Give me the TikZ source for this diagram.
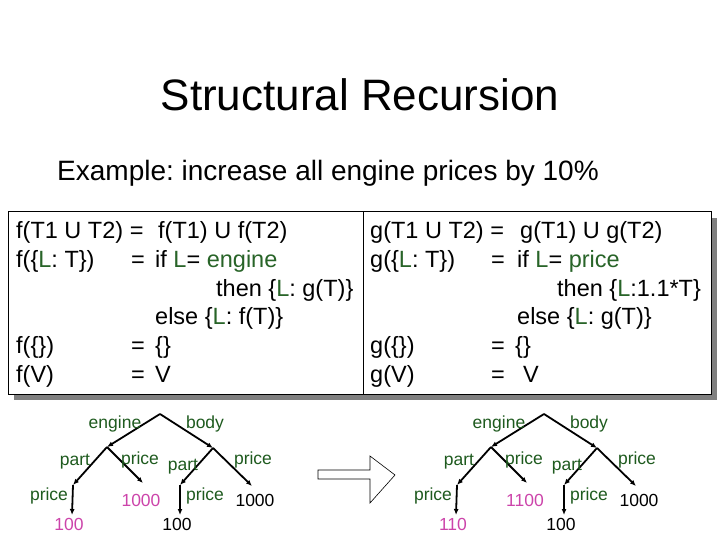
\documentclass[tikz,border=0pt]{standalone}
\usepackage{fontspec}
\setmainfont{Liberation Sans}
\usetikzlibrary{arrows.meta}

\definecolor{codegreen}{RGB}{40,100,40}
\definecolor{treegreen}{RGB}{30,90,30}
\definecolor{valpink}{RGB}{204,68,170}
\newcommand{\gL}{\textcolor{codegreen}{L}}
\frenchspacing

\begin{document}
\begin{tikzpicture}[
  x=1pt, y=-1pt,
  >=Latex,
  code/.style={anchor=base west, inner sep=0pt, font=\fontsize{23.5}{26}\selectfont},
  lbl/.style={anchor=base, inner sep=0pt, text=treegreen, font=\fontsize{17.5}{20}\selectfont},
  val/.style={anchor=base, inner sep=0pt, font=\fontsize{17.5}{20}\selectfont},
  link/.style={-{Latex[length=6pt,width=5pt]}, line width=1.8pt}
]
  \useasboundingbox (0,0) rectangle (720,540);

  % title and subtitle
  \node[anchor=base, inner sep=0pt, font=\fontsize{44}{48}\selectfont] (title) at (360,111) {Structural Recursion};
  \node[anchor=base west, inner sep=0pt, font=\fontsize{28}{32}\selectfont] (sub) at (57,181)
    {Example: increase all engine prices by 10\%};

  % the two definitions, boxed with a shadow
  \fill[black!50] (14,218) rectangle (717,400);
  \draw[fill=white, line width=1pt] (8,212) rectangle (711,394);
  \draw[line width=1pt] (363,212) -- (363,394);

  \node[code] (f1) at (16,238) {f(T1 U T2) =};
  \node[code] (f1r) at (158,238) {f(T1) U f(T2)};
  \node[code] (f2) at (16,267) {f(\{\gL: T\})};
  \node[code] (f2e) at (131,267) {=};
  \node[code] (f2r) at (155,267) {if \gL= \textcolor{codegreen}{engine}};
  \node[code] (f3) at (216,296) {then \{\gL: g(T)\}};
  \node[code] (f4) at (155,324) {else \{\gL: f(T)\}};
  \node[code] (f5) at (16,353) {f(\{\})};
  \node[code] (f5e) at (131,353) {=};
  \node[code] (f5r) at (155,353) {\{\}};
  \node[code] (f6) at (16,382) {f(V)};
  \node[code] (f6e) at (131,382) {=};
  \node[code] (f6r) at (155,382) {V};

  \node[code] (g1) at (370,238) {g(T1 U T2) =};
  \node[code] (g1r) at (520,238) {g(T1) U g(T2)};
  \node[code] (g2) at (370,267) {g(\{\gL: T\})};
  \node[code] (g2e) at (491,267) {=};
  \node[code] (g2r) at (517,267) {if \gL= \textcolor{codegreen}{price}};
  \node[code] (g3) at (557,296) {then \{\gL:1.1*T\}};
  \node[code] (g4) at (517,324) {else \{\gL: g(T)\}};
  \node[code] (g5) at (370,353) {g(\{\})};
  \node[code] (g5e) at (491,353) {=};
  \node[code] (g5r) at (515,353) {\{\}};
  \node[code] (g6) at (370,382) {g(V)};
  \node[code] (g6e) at (491,382) {=};
  \node[code] (g6r) at (523,382) {V};

  % before / after trees
  \foreach \dx/\va/\vb/\n in {0/100/1000/a, 384/110/1100/b} {
    \coordinate (r\n) at (160+\dx,414);
    \coordinate (e\n) at (107+\dx,447);
    \coordinate (b\n) at (213+\dx,448);
    \coordinate (ep\n) at (73+\dx,485);
    \coordinate (epr\n) at (143+\dx,483);
    \coordinate (epv\n) at (72+\dx,515);
    \coordinate (bp\n) at (180+\dx,485);
    \coordinate (bpr\n) at (252+\dx,486);
    \coordinate (bpv\n) at (180+\dx,515);
    \draw[link] (r\n) -- (e\n);
    \draw[link] (r\n) -- (b\n);
    \draw[link] (e\n) -- (ep\n);
    \draw[link] (e\n) -- (epr\n);
    \draw[link] (ep\n) -- (epv\n);
    \draw[link] (b\n) -- (bp\n);
    \draw[link] (b\n) -- (bpr\n);
    \draw[link] (bp\n) -- (bpv\n);
    \node[lbl] (le\n) at (115+\dx,428) {engine};
    \node[lbl] (lb\n) at (205+\dx,428) {body};
    \node[lbl] (lep\n) at (75+\dx,465) {part};
    \node[lbl] (lepr\n) at (140+\dx,464) {price};
    \node[lbl] (lbp\n) at (183+\dx,470) {part};
    \node[lbl] (lbpr\n) at (253+\dx,464) {price};
    \node[lbl] (lepp\n) at (49+\dx,500) {price};
    \node[lbl] (lbpp\n) at (205+\dx,500) {price};
    \node[val, text=valpink] (vb\n) at (141+\dx,506) {\vb};
    \node[val] (vc\n) at (255+\dx,506) {1000};
    \node[val, text=valpink] (va\n) at (69+\dx,530) {\va};
    \node[val] (vd\n) at (177+\dx,530) {100};
  }

  % block arrow between the trees
  \draw[fill=white, line width=.6pt] (318,470) -- (370,470) -- (370,456) -- (395,475)
    -- (370,503) -- (370,479) -- (318,479) -- cycle;

\end{tikzpicture}
\end{document}
